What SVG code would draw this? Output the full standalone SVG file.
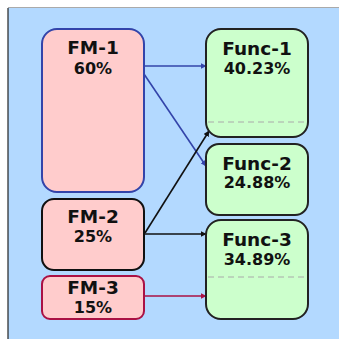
<svg xmlns="http://www.w3.org/2000/svg" width="339" height="339" viewBox="0 0 339 339">
<defs>
<style>
.t{font-family:"DejaVu Sans",Verdana,sans-serif;font-weight:bold;fill:#111;text-anchor:middle}
.h{font-size:18.5px}
.p{font-size:16px}
.fm{fill:#ffcccc;stroke-width:2}
.fn{fill:#ccffcc;stroke:#222;stroke-width:2}
.dash{stroke:#aaaaaa;stroke-width:1;stroke-dasharray:6,4}
.c{fill:none;stroke-width:1.6}
</style>
<marker id="ab" viewBox="0 0 10 10" refX="9" refY="5" markerWidth="6" markerHeight="6" orient="auto" markerUnits="userSpaceOnUse"><path d="M0,0 L10,5 L0,10 z" fill="#3344aa"/></marker>
<marker id="ak" viewBox="0 0 10 10" refX="9" refY="5" markerWidth="6" markerHeight="6" orient="auto" markerUnits="userSpaceOnUse"><path d="M0,0 L10,5 L0,10 z" fill="#111"/></marker>
<marker id="ar" viewBox="0 0 10 10" refX="9" refY="5" markerWidth="6" markerHeight="6" orient="auto" markerUnits="userSpaceOnUse"><path d="M0,0 L10,5 L0,10 z" fill="#aa1144"/></marker>
</defs>
<rect x="0" y="0" width="339" height="339" fill="#ffffff"/>
<rect x="8" y="8" width="332" height="332" fill="#b3d9ff"/>
<line x1="8" y1="7.5" x2="339" y2="7.5" stroke="#aaaaaa" stroke-width="1"/>
<line x1="8" y1="8" x2="8" y2="339" stroke="#222" stroke-width="1.2"/>
<g id="connectors">
<line class="c" x1="144" y1="66" x2="206" y2="66" stroke="#3344aa" marker-end="url(#ab)"/>
<line class="c" x1="144" y1="74" x2="206" y2="166" stroke="#3344aa" marker-end="url(#ab)"/>
<line class="c" x1="145" y1="233" x2="209" y2="131" stroke="#111" marker-end="url(#ak)"/>
<line class="c" x1="144" y1="234" x2="206" y2="234" stroke="#111" marker-end="url(#ak)"/>
<line class="c" x1="144" y1="296" x2="206" y2="296" stroke="#aa1144" marker-end="url(#ar)"/>
</g>
<g id="fm1">
<rect class="fm" x="42" y="29" width="102" height="163" rx="15" stroke="#3344aa"/>
<text class="t h" x="93" y="54">FM-1</text>
<text class="t p" x="93" y="74">60%</text>
</g>
<g id="fm2">
<rect class="fm" x="42" y="199" width="102" height="71" rx="12" stroke="#111"/>
<text class="t h" x="93" y="223">FM-2</text>
<text class="t p" x="93" y="242">25%</text>
</g>
<g id="fm3">
<rect class="fm" x="42" y="276" width="102" height="43" rx="8" stroke="#aa1144"/>
<text class="t h" x="93" y="294">FM-3</text>
<text class="t p" x="93" y="313">15%</text>
</g>
<g id="func1">
<rect class="fn" x="206" y="29" width="102" height="108" rx="15"/>
<line class="dash" x1="208" y1="122" x2="306" y2="122"/>
<text class="t h" x="257" y="55">Func-1</text>
<text class="t p" x="257" y="74">40.23%</text>
</g>
<g id="func2">
<rect class="fn" x="206" y="144" width="102" height="71" rx="13"/>
<text class="t h" x="257" y="170">Func-2</text>
<text class="t p" x="257" y="188">24.88%</text>
</g>
<g id="func3">
<rect class="fn" x="206" y="220" width="102" height="99" rx="15"/>
<line class="dash" x1="208" y1="277" x2="306" y2="277"/>
<text class="t h" x="257" y="246">Func-3</text>
<text class="t p" x="257" y="265">34.89%</text>
</g>
</svg>
